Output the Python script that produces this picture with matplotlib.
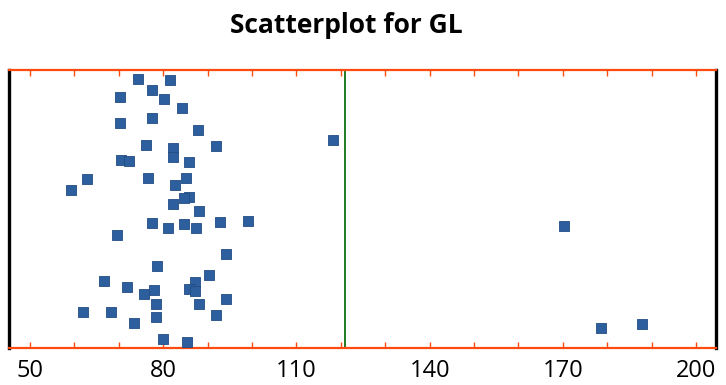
import numpy as np
import matplotlib.pyplot as plt

# GL values (x) and vertical jitter (y, 0..1)
gl = [74.3, 81.6, 77.6, 70.3, 80.2, 84.2, 70.3, 77.5, 87.9, 76.1,
      91.9, 82.3, 82.3, 70.5, 72.4, 85.9, 62.9, 76.5, 85.2, 59.2,
      82.6, 85.9, 84.8, 82.3, 88.0, 77.5, 81.0, 84.6, 87.4, 92.9,
      99.2, 69.7, 94.1, 78.7, 90.3, 66.6, 71.8, 87.2, 85.9, 87.2,
      77.9, 75.6, 94.2, 78.4, 88.0, 62.0, 68.2, 92.0, 78.4, 73.5,
      79.9, 85.3, 118.2, 170.3, 178.6, 187.8]
jitter = [0.967, 0.965, 0.928, 0.904, 0.897, 0.864, 0.809, 0.826, 0.783, 0.731,
          0.728, 0.720, 0.688, 0.676, 0.674, 0.670, 0.608, 0.612, 0.612, 0.567,
          0.586, 0.542, 0.538, 0.517, 0.494, 0.449, 0.431, 0.446, 0.431, 0.453,
          0.458, 0.405, 0.337, 0.296, 0.263, 0.241, 0.218, 0.236, 0.212, 0.205,
          0.209, 0.193, 0.177, 0.157, 0.158, 0.131, 0.131, 0.118, 0.113, 0.090,
          0.032, 0.022, 0.747, 0.440, 0.073, 0.087]
cutoff = 121
major_ticks = [50, 80, 110, 140, 170, 200]
minor_ticks = list(range(50, 201, 10))

orange = '#ff4a10'
fig = plt.figure(figsize=(7.26, 3.85), dpi=100)
ax = fig.add_axes([0.0124, 0.096, 0.974, 0.722])

ax.scatter(gl, jitter, marker='s', s=55, c='#2d5f9e', edgecolors='#234d82',
           linewidths=0.6, zorder=3)
ax.axvline(cutoff, color='#1f7a1f', lw=1.4, zorder=2)

ax.set_xlim(45.3, 204.5)
ax.set_ylim(0, 1)
ax.set_yticks([])
ax.set_xticks(major_ticks)
ax.set_xticks(minor_ticks, minor=True)
ax.set_xticklabels([str(t) for t in major_ticks], fontsize=17, family='Open Sans')
ax.tick_params(axis='x', which='both', direction='in', length=4, width=1,
               color=orange, top=True, bottom=True, pad=8)

for side in ['top', 'bottom']:
    ax.spines[side].set_color(orange)
    ax.spines[side].set_linewidth(1.6)
for side in ['left', 'right']:
    ax.spines[side].set_color('black')
    ax.spines[side].set_linewidth(2.4)

fig.text(0.4766, 0.914, 'Scatterplot for GL', ha='center', va='baseline',
         fontsize=19, fontweight='bold', family='Open Sans')

fig.savefig('out.png', dpi=100)
